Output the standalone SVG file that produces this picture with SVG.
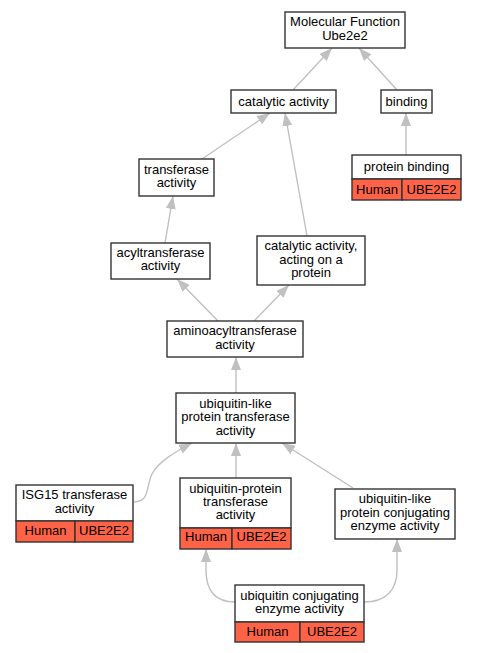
<svg xmlns="http://www.w3.org/2000/svg" width="477" height="653" viewBox="0 0 477 653">
<style>
.n{fill:#fff;stroke:#333;stroke-width:1.4}
.h{fill:#ff6347;stroke:#333;stroke-width:1.4}
text{font-family:"Liberation Sans",Arial,sans-serif;font-size:13px;fill:#000;text-anchor:middle}
.e path{fill:none;stroke:#c0c0c0;stroke-width:1.4;marker-end:url(#a)}
</style>
<defs>
<marker id="a" viewBox="0 0 13 10" markerWidth="13" markerHeight="10" refX="13" refY="5" orient="auto" markerUnits="userSpaceOnUse">
<path d="M0,0 L13,5 L0,10 z" fill="#c0c0c0"/>
</marker>
</defs>
<rect width="477" height="653" fill="#fff"/>
<g class="e">
<path d="M293,90 L332,48"/>
<path d="M397,90 L359,48"/>
<path d="M406,155 L406,113"/>
<path d="M202,159 L270,113"/>
<path d="M307,236 L285,113"/>
<path d="M165,243 L173,196"/>
<path d="M218,321 L177,279"/>
<path d="M254,321 L289,285"/>
<path d="M236,393 L236,357"/>
<path d="M134,502 C150,502 146,486 152,474 C158,462 175,452 192,443"/>
<path d="M236,478 L236,443"/>
<path d="M353,488 L282,443"/>
<path d="M235,602 C214,602 206,590 206,570 L206,549"/>
<path d="M364,602 C386,602 397,590 397,570 L397,539"/>
</g>
<g id="mf"><rect class="n" x="285" y="12" width="120" height="36"/><text x="345" y="26">Molecular Function</text><text x="345" y="40">Ube2e2</text></g>
<g id="catalytic"><rect class="n" x="231" y="90" width="105" height="23"/><text x="283.5" y="106">catalytic activity</text></g>
<g id="binding"><rect class="n" x="381" y="90" width="51" height="23"/><text x="406.5" y="106">binding</text></g>
<g id="proteinbinding"><rect class="n" x="352" y="155" width="109" height="24"/><rect class="h" x="352" y="179" width="50" height="21"/><rect class="h" x="402" y="179" width="59" height="21"/><text x="406.5" y="171">protein binding</text><text x="377" y="194">Human</text><text x="431.5" y="194">UBE2E2</text></g>
<g id="transferase"><rect class="n" x="139" y="159" width="75" height="37"/><text x="176.5" y="174">transferase</text><text x="176.5" y="187">activity</text></g>
<g id="acyl"><rect class="n" x="111" y="243" width="99" height="36"/><text x="160.5" y="257">acyltransferase</text><text x="160.5" y="270">activity</text></g>
<g id="catprot"><rect class="n" x="257" y="236" width="108" height="49"/><text x="311" y="250">catalytic activity,</text><text x="311" y="263.5">acting on a</text><text x="311" y="277">protein</text></g>
<g id="aminoacyl"><rect class="n" x="167" y="321" width="136" height="36"/><text x="235" y="335">aminoacyltransferase</text><text x="235" y="349">activity</text></g>
<g id="ubl"><rect class="n" x="176" y="393" width="119" height="50"/><text x="235.5" y="407.5">ubiquitin-like</text><text x="235.5" y="421">protein transferase</text><text x="235.5" y="434.5">activity</text></g>
<g id="isg15"><rect class="n" x="16" y="485" width="117" height="36"/><rect class="h" x="16" y="521" width="59" height="21"/><rect class="h" x="75" y="521" width="58" height="21"/><text x="74.5" y="498.5">ISG15 transferase</text><text x="74.5" y="513">activity</text><text x="45.5" y="535">Human</text><text x="104" y="535">UBE2E2</text></g>
<g id="ubprot"><rect class="n" x="180" y="478" width="111" height="50"/><rect class="h" x="180" y="528" width="52" height="21"/><rect class="h" x="232" y="528" width="59" height="21"/><text x="235.5" y="493">ubiquitin-protein</text><text x="235.5" y="506">transferase</text><text x="235.5" y="519">activity</text><text x="206" y="541">Human</text><text x="261.5" y="541">UBE2E2</text></g>
<g id="ublconj"><rect class="n" x="335" y="489" width="120" height="50"/><text x="395" y="503">ubiquitin-like</text><text x="395" y="516.5">protein conjugating</text><text x="395" y="530">enzyme activity</text></g>
<g id="ubconj"><rect class="n" x="235" y="585" width="129" height="37"/><rect class="h" x="235" y="622" width="65" height="20"/><rect class="h" x="300" y="622" width="64" height="20"/><text x="299.5" y="599.5">ubiquitin conjugating</text><text x="299.5" y="613">enzyme activity</text><text x="267.5" y="635.5">Human</text><text x="332" y="635.5">UBE2E2</text></g>
</svg>
